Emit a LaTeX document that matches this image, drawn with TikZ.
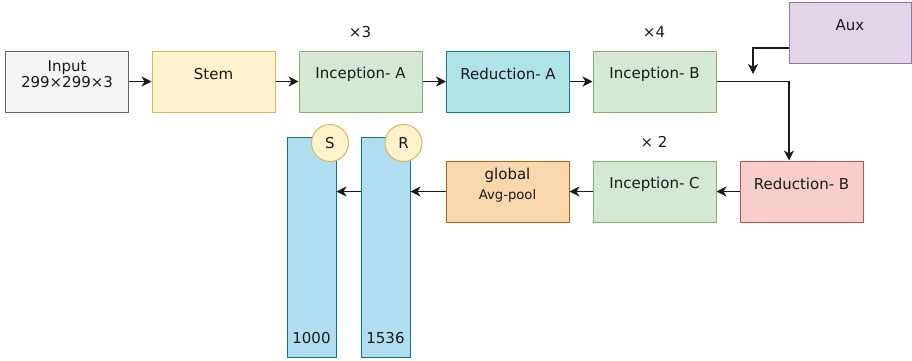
\documentclass[tikz,border=0pt]{standalone}
\usepackage{fontspec}
\setmainfont{DejaVu Sans}
\usetikzlibrary{arrows.meta,positioning}
\definecolor{txtc}{HTML}{1A1A1A}
\definecolor{grayF}{HTML}{F5F5F5}\definecolor{grayD}{HTML}{666666}
\definecolor{yelF}{HTML}{FFF2CC}\definecolor{yelD}{HTML}{D6B656}
\definecolor{grnF}{HTML}{D5E8D4}\definecolor{grnD}{HTML}{82B366}
\definecolor{tealF}{HTML}{B0E3E6}\definecolor{tealD}{HTML}{0E8088}
\definecolor{purF}{HTML}{E1D5E7}\definecolor{purD}{HTML}{9673A6}
\definecolor{redF}{HTML}{F8CECC}\definecolor{redD}{HTML}{B85450}
\definecolor{orF}{HTML}{FAD7AC}\definecolor{orD}{HTML}{B46504}
\definecolor{blueF}{HTML}{B1DDF0}\definecolor{blueD}{HTML}{10739E}
\tikzset{
  box/.style={draw, line width=1pt, minimum width=123pt, minimum height=61pt, inner sep=0pt},
  col/.style={draw=blueD, fill=blueF, line width=1pt, minimum width=49pt, minimum height=220pt, inner sep=0pt},
  circ/.style={circle, draw=yelD, fill=yelF, line width=1pt, minimum size=37pt, inner sep=0pt, text=txtc, font=\fontsize{15}{17}\selectfont},
  txt/.style={text=txtc, font=\fontsize{15}{17}\selectfont, align=center, inner sep=0pt},
  conn/.style={line width=1.3pt, draw=black!90, -{Stealth[length=10pt,width=10pt,inset=3pt]}}
}
\begin{document}
\begin{tikzpicture}[x=1pt,y=-1pt]
\useasboundingbox (0,0) rectangle (912,360);
% boxes
\node[box, draw=grayD, fill=grayF] (in) at (67,81.5) {};
\node[box, draw=yelD, fill=yelF] (st) at (213.5,81.5) {};
\node[box, draw=grnD, fill=grnF] (ia) at (360.5,81.5) {};
\node[box, draw=tealD, fill=tealF] (ra) at (508,81.5) {};
\node[box, draw=grnD, fill=grnF] (ib) at (654.5,81.5) {};
\node[box, draw=purD, fill=purF, minimum width=122pt] (aux) at (850,32.5) {};
\node[box, draw=redD, fill=redF] (rb) at (801.5,191.5) {};
\node[box, draw=grnD, fill=grnF] (ic) at (654.5,191.5) {};
\node[box, draw=orD, fill=orF] (ap) at (507.5,191.5) {};
\node[col] (s) at (311.5,247) {};
\node[col] (r) at (385.5,247) {};
% texts
\node[txt] (in-t) at (67,74) {Input\\[-0.5pt]299×299×3};
\node[txt] (st-t) at (213.5,74) {Stem};
\node[txt] (ia-t) at (360.5,74) {Inception- A};
\node[txt] (ra-t) at (508,74) {Reduction- A};
\node[txt] (ib-t) at (654.5,74) {Inception- B};
\node[txt] (aux-t) at (850,25) {Aux};
\node[txt] (rb-t) at (801.5,184) {Reduction- B};
\node[txt] (ic-t) at (654.5,184) {Inception- C};
\node[txt, font=\fontsize{15}{20}\selectfont] (ap-t) at (507.5,185) {global\\{\fontsize{13.2}{20}\selectfont Avg-pool}};
\node[txt] (m3) at (360,32) {×3};
\node[txt] (m4) at (654,32) {×4};
\node[txt] (m2) at (654,142) {× 2};
\node[txt] (s-t) at (311.5,338) {1000};
\node[txt] (r-t) at (385.5,338) {1536};
% circles
\node[circ] (sc) at (330,143) {S};
\node[circ] (rc) at (403.5,143) {R};
% connectors
\draw[conn] (in) -- (st);
\draw[conn] (st) -- (ia);
\draw[conn] (ia) -- (ra);
\draw[conn] (ra) -- (ib);
\draw[conn] (ib.east) -| ([xshift=-12.5pt]rb.north);
\coordinate (auxend) at (753,74);
\draw[conn] ([yshift=-15.5pt]aux.west) -| (auxend);
\draw[conn] (rb) -- (ic);
\draw[conn] (ic) -- (ap);
\draw[conn] (ap.west) -- (ap.west -| r.east);
\draw[conn] (r.west |- ap.west) -- (ap.west -| s.east);
\end{tikzpicture}
\end{document}
